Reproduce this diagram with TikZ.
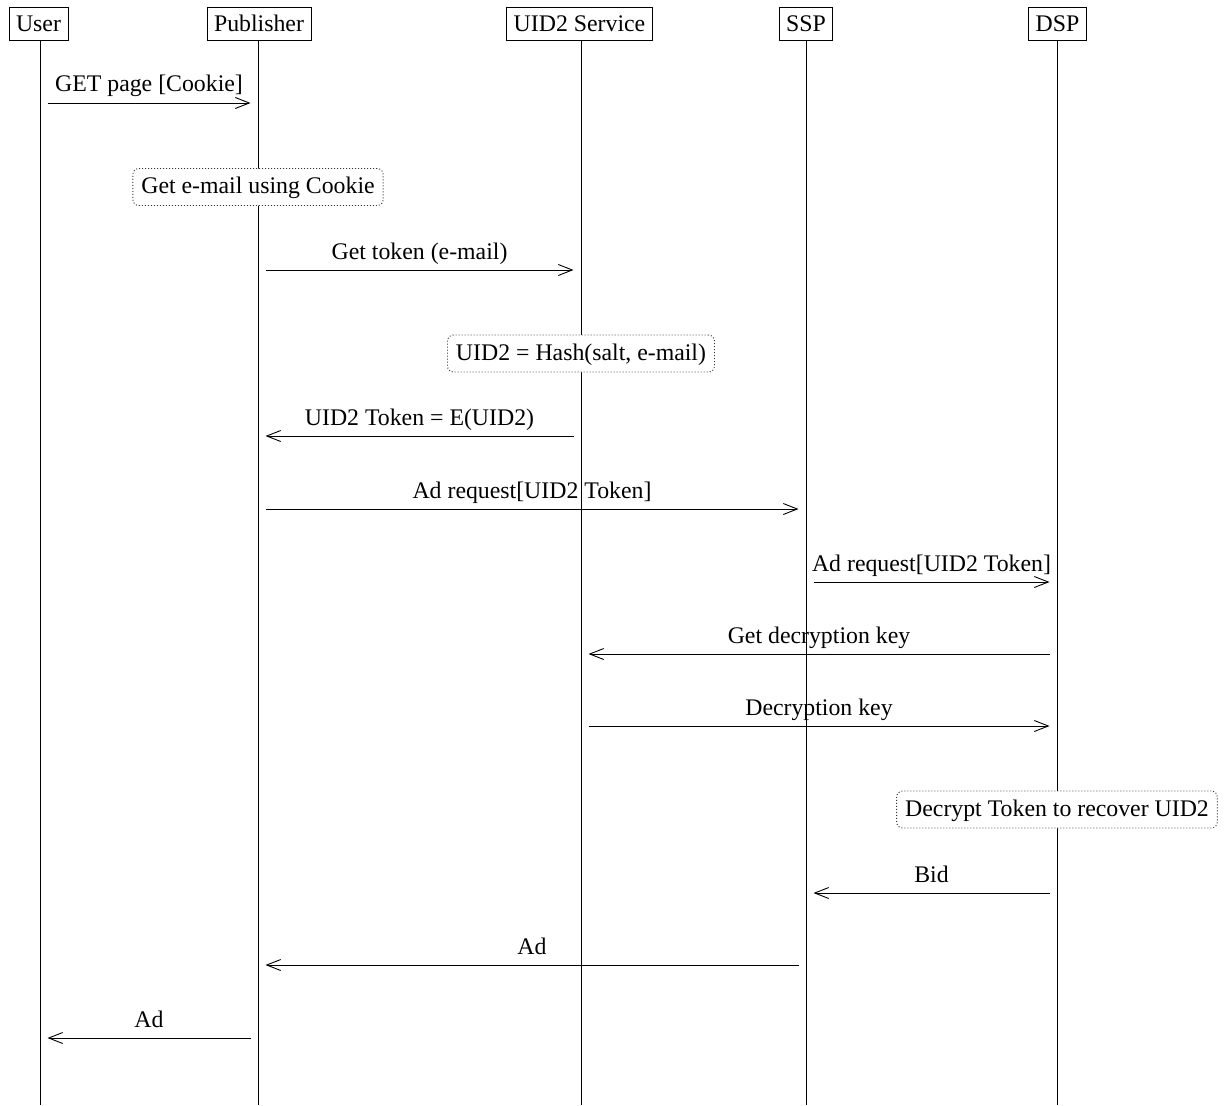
\documentclass[tikz,border=0pt]{standalone}
\usepackage{fontspec}
\setmainfont{Liberation Serif}
\usetikzlibrary{arrows.meta}
\begin{document}
\begin{tikzpicture}[x=1pt,y=-1pt,
  every node/.style={font=\fontsize{23.8}{28}\selectfont},
  actor/.style={draw, line width=0.9pt, inner xsep=7pt, inner ysep=0pt,
    minimum height=33pt, text height=16pt, text depth=0pt, fill=white},
  lifeline/.style={line width=0.9pt},
  note/.style={draw=black!80, line width=0.9pt, dash pattern=on 1pt off 2pt,
    rounded corners=6pt, fill=white, inner xsep=8.5pt, inner ysep=0pt,
    minimum height=37pt, text height=16pt, text depth=3pt},
  msg/.style={line width=0.9pt, -{Straight Barb[length=14pt,width=11pt]},
    shorten <=7.5pt, shorten >=7.5pt},
  lbl/.style={anchor=base, yshift=11pt, inner sep=0pt}
]
\useasboundingbox (0,0) rectangle (1225,1105);

% headers
\node[actor] (user) at (38.5,23.5) {User};
\node[actor] (pub)  at (259,23.5) {Publisher};
\node[actor] (uid)  at (579.5,23.5) {UID2 Service};
\node[actor] (ssp)  at (806,23.5) {SSP};
\node[actor] (dsp)  at (1057.5,23.5) {DSP};

% lifeline ends
\coordinate (userend) at (40,1105);
\coordinate (pubend)  at (258,1105);
\coordinate (uidend)  at (581,1105);
\coordinate (sspend)  at (806,1105);
\coordinate (dspend)  at (1057,1105);

\draw[lifeline] (userend |- user.south) -- (userend);
\draw[lifeline] (pubend |- pub.south) -- (pubend);
\draw[lifeline] (uidend |- uid.south) -- (uidend);
\draw[lifeline] (sspend |- ssp.south) -- (sspend);
\draw[lifeline] (dspend |- dsp.south) -- (dspend);

% message rows
\coordinate (m1) at (0,103);
\coordinate (m3) at (0,270);
\coordinate (m5) at (0,436);
\coordinate (m6) at (0,509);
\coordinate (m7) at (0,582);
\coordinate (m8) at (0,654);
\coordinate (m9) at (0,726);
\coordinate (m11) at (0,893);
\coordinate (m12) at (0,965);
\coordinate (m13) at (0,1038);

\draw[msg] (userend |- m1) -- node[lbl, midway] {GET page [Cookie]} (pubend |- m1);
\node[note] (n1) at (258,187) {Get e-mail using Cookie};
\draw[msg] (pubend |- m3) -- node[lbl, midway] {Get token (e-mail)} (uidend |- m3);
\node[note] (n2) at (581,353.5) {UID2 = Hash(salt, e-mail)};
\draw[msg] (uidend |- m5) -- node[lbl, midway] {UID2 Token = E(UID2)} (pubend |- m5);
\draw[msg] (pubend |- m6) -- node[lbl, midway] {Ad request[UID2 Token]} (sspend |- m6);
\draw[msg] (sspend |- m7) -- node[lbl, midway] {Ad request[UID2 Token]} (dspend |- m7);
\draw[msg] (dspend |- m8) -- node[lbl, midway] {Get decryption key} (uidend |- m8);
\draw[msg] (uidend |- m9) -- node[lbl, midway] {Decryption key} (dspend |- m9);
\node[note] (n3) at (1057,809.5) {Decrypt Token to recover UID2};
\draw[msg] (dspend |- m11) -- node[lbl, midway] {Bid} (sspend |- m11);
\draw[msg] (sspend |- m12) -- node[lbl, midway] {Ad} (pubend |- m12);
\draw[msg] (pubend |- m13) -- node[lbl, midway] {Ad} (userend |- m13);
\end{tikzpicture}
\end{document}
